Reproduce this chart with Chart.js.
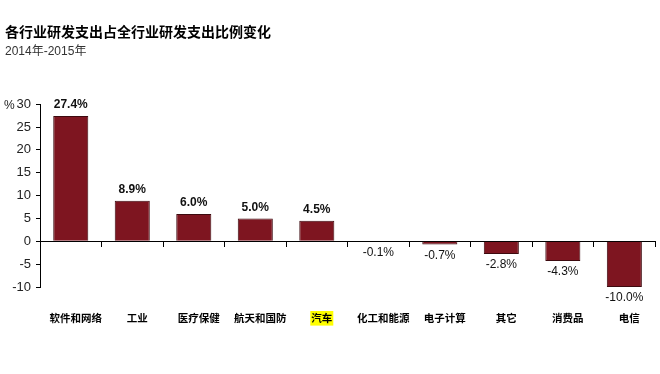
<!DOCTYPE html>
<html>
<head>
<meta charset="utf-8">
<script src="https://cdn.jsdelivr.net/npm/chart.js@4/dist/chart.umd.min.js"></script>
<style>
  html, body { margin: 0; padding: 0; background: #fff; }
  #wrap { width: 660px; height: 374px; }
</style>
</head>
<body>
<div id="wrap"><canvas id="myChart"></canvas></div>
<script>
//Categories and values (percent change in share of R&D spend)
var categories = ["软件和网络", "工业", "医疗保健", "航天和国防", "汽车", "化工和能源", "电子计算", "其它", "消费品", "电信"];
var changeValues = [27.4, 8.9, 6.0, 5.0, 4.5, -0.1, -0.7, -2.8, -4.3, -10.0];
var yTicks = [30, 25, 20, 15, 10, 5, 0, -5, -10];
var highlightLabel = "汽车";

var barColor = "#7e1520";
var barBorder = "#3d0a0f";
var latinFont = "'Liberation Sans', Arial, 'Noto Sans CJK SC', sans-serif";

//draws value labels on the bars and the % unit next to the axis
var barLabels = {
    id: 'barLabels',
    afterDatasetsDraw: function (chart) {
        var ctx = chart.ctx;
        var meta = chart.getDatasetMeta(0);
        ctx.save();
        ctx.fillStyle = "#111";
        ctx.textAlign = "center";
        ctx.textBaseline = "middle";
        meta.data.forEach(function (bar, i) {
            var v = changeValues[i];
            if (v >= 0) {
                ctx.font = "bold 12px " + latinFont;
                ctx.fillText(v.toFixed(1) + "%", bar.x, bar.y - 11);
            } else {
                ctx.font = "12px " + latinFont;
                ctx.fillText(v.toFixed(1) + "%", bar.x, bar.y + 11);
            }
        });
        var y = chart.scales.y;
        ctx.font = "12px " + latinFont;
        ctx.textAlign = "left";
        ctx.fillStyle = "#222";
        ctx.fillText("%", 4, y.getPixelForValue(yTicks[0]) + 1);
        ctx.restore();
    }
};

var ctx = document.getElementById("myChart");
var myChart = new Chart(ctx, {
    type: 'bar',
    data: {
        labels: categories,
        datasets: [
            {
                label: "变化",
                data: changeValues,
                backgroundColor: barColor,
                borderColor: barBorder,
                borderWidth: 1,
                barPercentage: 0.57,
                categoryPercentage: 1,
                xAxisID: 'x',
                yAxisID: 'y'
            }
        ]
    },
    options: {
        responsive: true,
        maintainAspectRatio: false,
        animation: false,
        layout: {
            padding: { left: 5, right: 3, top: 0, bottom: 0 }
        },
        plugins: {
            legend: { display: false },
            tooltip: { enabled: false },
            title: {
                display: true,
                text: "各行业研发支出占全行业研发支出比例变化",
                align: 'start',
                color: "#000",
                font: { family: "'Noto Sans CJK SC', sans-serif", size: 14, weight: 'bold' },
                padding: { top: 23, bottom: 5 }
            },
            subtitle: {
                display: true,
                text: "2014年-2015年",
                align: 'start',
                color: "#333",
                font: { family: latinFont, size: 12 },
                padding: { top: 0, bottom: 45 }
            }
        },
        scales: {
            y: {
                min: -10,
                max: 30,
                afterFit: function (scale) { scale.width = 35; },
                afterBuildTicks: function (scale) {
                    scale.ticks = yTicks.map(function (v) { return { value: v }; });
                },
                ticks: {
                    color: "#222",
                    padding: 5,
                    font: { family: latinFont, size: 13 }
                },
                grid: {
                    drawOnChartArea: false,
                    drawTicks: true,
                    tickLength: 4,
                    color: "#000"
                },
                border: { display: true, color: "#000", width: 1 }
            },
            x: {
                type: 'category',
                position: { y: 0 },
                offset: true,
                ticks: { display: false },
                grid: {
                    offset: true,
                    drawOnChartArea: false,
                    drawTicks: true,
                    tickLength: 5,
                    color: "#000"
                },
                border: { display: true, color: "#000", width: 1 }
            },
            x2: {
                type: 'category',
                axis: 'x',
                position: 'bottom',
                offset: true,
                afterFit: function (scale) { scale.height = 87; },
                ticks: {
                    color: "#000",
                    padding: 25,
                    labelOffset: 5,
                    maxRotation: 0,
                    autoSkip: false,
                    font: { family: "'Noto Sans CJK SC', sans-serif", size: 10.5, weight: 'bold' },
                    showLabelBackdrop: function (c) { return categories[c.index] === highlightLabel; },
                    backdropColor: "#ffff00",
                    backdropPadding: 1
                },
                grid: { display: false, drawTicks: false },
                border: { display: false }
            }
        }
    },
    plugins: [barLabels]
});
</script>
</body>
</html>
